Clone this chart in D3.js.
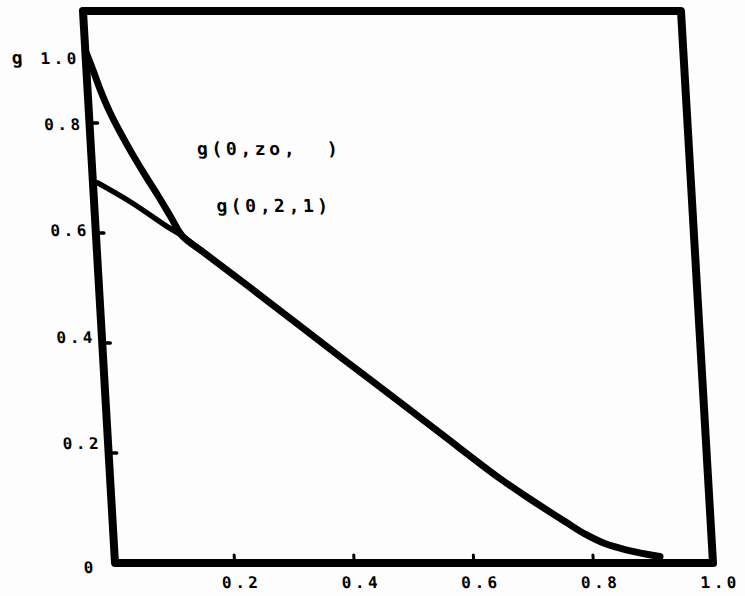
<!DOCTYPE html>
<html>
<head>
<meta charset="utf-8">
<script src="https://cdn.jsdelivr.net/npm/d3@7"></script>
<style>
  html, body { margin: 0; padding: 0; background: #fdfdfd; }
  svg { display: block; }
  text { font-family: "DejaVu Sans Mono", monospace; font-weight: bold; fill: #000; white-space: pre; }
</style>
</head>
<body>
<svg id="chart" width="745" height="596"></svg>
<script>
// ---- data ----
const xTicks = [0.2, 0.4, 0.6, 0.8];
const xLabelValues = [0.2, 0.4, 0.6, 0.8, 1.0];
const xTickLabels = ["0.2", "0.4", "0.6", "0.8", "1.0"];
const yTicks = [0.2, 0.4, 0.6, 0.8];
const yLabelValues = [1.0, 0.8, 0.6, 0.4, 0.2];
const yTickLabels = ["1.0", "0.8", "0.6", "0.4", "0.2"];
const originLabel = "0";
const yTitle = "g";

// curve g(0,zo, ) – heavy curve
const gZoX = [0.001, 0.011, 0.022, 0.035, 0.050, 0.068, 0.088, 0.108, 0.127, 0.144, 0.178, 0.25, 0.33, 0.40, 0.489, 0.56, 0.649, 0.702, 0.757, 0.790, 0.822, 0.856, 0.890, 0.912];
const gZoY = [1.000, 0.949, 0.890, 0.831, 0.784, 0.745, 0.705, 0.667, 0.629, 0.595, 0.565, 0.503, 0.433, 0.372, 0.295, 0.233, 0.156, 0.115, 0.075, 0.052, 0.035, 0.024, 0.016, 0.012];
// curve g(0,2,1) – lighter line
const g21X = [0.008, 0.063, 0.118, 0.144, 0.178, 0.25, 0.33, 0.40, 0.489, 0.56, 0.649, 0.702, 0.757, 0.790, 0.822, 0.856, 0.890, 0.912];
const g21Y = [0.691, 0.655, 0.613, 0.595, 0.565, 0.503, 0.433, 0.372, 0.295, 0.233, 0.156, 0.115, 0.075, 0.052, 0.035, 0.024, 0.016, 0.012];

const curveLabels = ["g(0,zo,  )", "g(0,2,1)"];

// ---- layout ----
const svg = d3.select("#chart");
const skew = 0.058;          // scanned page is slightly sheared
const baseY = 563;
const plotTop = 11;

const x = d3.scaleLinear().domain([0, 1]).range([115, 713]);
const y = d3.scaleLinear().domain([0, 0.8, 1.0]).range([baseY, 123, 52]);
// where the plotter put the y tick labels (slightly above their ticks)
const yLab = d3.scaleLinear().domain([0.2, 0.8, 1.0]).range([449, 130, 64]);

const g = svg.append("g")
  .attr("transform", `matrix(1,0,${skew},1,${-skew * baseY},0)`);

// frame
g.append("path")
  .attr("d", `M${x(0)},${plotTop}L${x(1)},${plotTop}L${x(1)},${y(0)}L${x(0)},${y(0)}Z`)
  .attr("fill", "none")
  .attr("stroke", "#000")
  .attr("stroke-width", 8)
  .attr("stroke-linejoin", "round");

// y ticks
g.selectAll(".yt").data(yTicks).enter().append("line")
  .attr("x1", x(0)).attr("x2", x(0) + 8)
  .attr("y1", d => y(d)).attr("y2", d => y(d))
  .attr("stroke", "#000").attr("stroke-width", 3.5).attr("stroke-linecap", "round");

// x ticks
g.selectAll(".xt").data(xTicks).enter().append("line")
  .attr("x1", d => x(d)).attr("x2", d => x(d))
  .attr("y1", y(0)).attr("y2", y(0) - 8)
  .attr("stroke", "#000").attr("stroke-width", 3).attr("stroke-linecap", "round");

// y tick labels
g.selectAll(".yl").data(yLabelValues).enter().append("text")
  .attr("x", x(0) - 6)
  .attr("y", d => yLab(d))
  .attr("text-anchor", "end")
  .attr("font-size", 16)
  .attr("letter-spacing", 3.5)
  .text((d, i) => yTickLabels[i]);

// origin label
g.append("text")
  .attr("x", x(0) - 22).attr("y", y(0) + 10)
  .attr("text-anchor", "end")
  .attr("font-size", 16)
  .text(originLabel);

// y title
g.append("text")
  .attr("x", 41).attr("y", 64)
  .attr("font-size", 18)
  .text(yTitle);

// x tick labels
g.selectAll(".xl").data(xLabelValues).enter().append("text")
  .attr("x", d => x(d) + 6)
  .attr("y", y(0) + 25)
  .attr("text-anchor", "middle")
  .attr("font-size", 16)
  .attr("letter-spacing", 3.5)
  .text((d, i) => xTickLabels[i]);

// curves
const line = d3.line().x(d => x(d[0])).y(d => y(d[1])).curve(d3.curveCatmullRom.alpha(0.5));

g.append("path")
  .datum(g21X.map((v, i) => [v, g21Y[i]]))
  .attr("d", line)
  .attr("fill", "none").attr("stroke", "#000").attr("stroke-width", 5.5)
  .attr("stroke-linecap", "round");

g.append("path")
  .datum(gZoX.map((v, i) => [v, gZoY[i]]))
  .attr("d", line)
  .attr("fill", "none").attr("stroke", "#000").attr("stroke-width", 7)
  .attr("stroke-linecap", "round")
  .attr("stroke-linejoin", "round");

// curve labels
g.append("text")
  .attr("x", 221).attr("y", 155)
  .attr("font-size", 18).attr("letter-spacing", 3.6)
  .text(curveLabels[0]);
g.append("text")
  .attr("x", 237).attr("y", 212)
  .attr("font-size", 18).attr("letter-spacing", 3.6)
  .text(curveLabels[1]);
</script>
</body>
</html>
